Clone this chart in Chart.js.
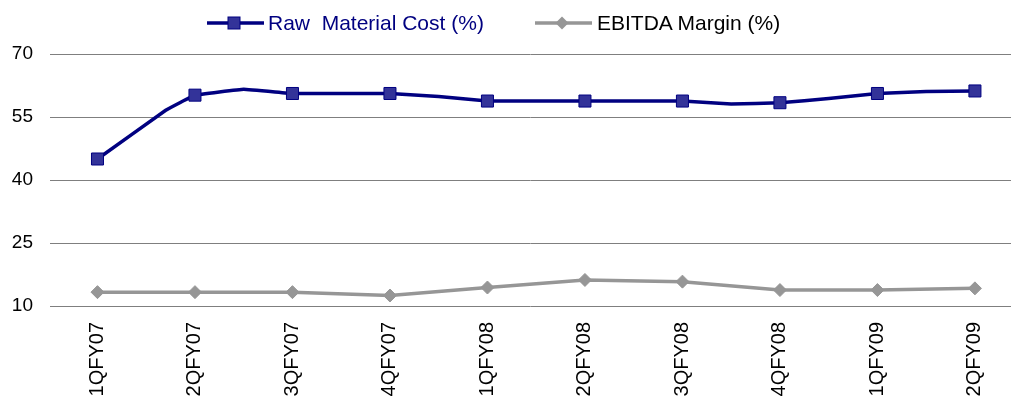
<!DOCTYPE html>
<html><head><meta charset="utf-8">
<script src="https://cdn.jsdelivr.net/npm/chart.js@4/dist/chart.umd.min.js"></script>
<style>
html,body{margin:0;padding:0;background:#fff;overflow:hidden}
#frame{position:relative;width:1011px;height:398px;overflow:hidden;background:#fff}
#wrap{position:absolute;left:0;top:0;width:1011px;height:398px}
#legend{position:absolute;top:10px;left:0;width:1011px;height:26px;font-family:"Liberation Sans",Arial,sans-serif;font-size:21px}
.item{position:absolute;top:0;display:flex;align-items:center;height:26px;white-space:pre}
.item svg{display:block}
</style></head>
<body>
<div id="frame">
  <div id="wrap"><canvas id="c"></canvas></div>
  <div id="legend"></div>
</div>
<script>
// ---- data ----
const categories = ['1QFY07','2QFY07','3QFY07','4QFY07','1QFY08','2QFY08','3QFY08','4QFY08','1QFY09','2QFY09'];
const rawMaterialCost = [45.0, 60.2, 60.6, 60.6, 58.8, 58.8, 58.8, 58.4, 60.6, 61.2];
// unmarked vertices the line passes through between quarters (position in quarters, value)
const rawMaterialHiddenAt = [0.7, 1.5, 2.5, 3.5, 4.5, 5.5, 6.5, 7.5, 8.5];
const rawMaterialHidden = [56.6, 61.6, 60.6, 59.9, 58.8, 58.8, 58.1, 59.4, 61.1];
const ebitdaMargin = [13.3, 13.3, 13.3, 12.5, 14.4, 16.2, 15.8, 13.8, 13.8, 14.2];
const yTicks = [10, 25, 40, 55, 70];
const seriesNames = ['Raw  Material Cost (%)', 'EBITDA Margin (%)'];

// ---- styles ----
const NAVY = '#000080', NAVY_FILL = '#333399', GREY = '#969696';
const FONT = '"Liberation Sans", Arial, sans-serif';

const rawPoints = rawMaterialCost.map((v, i) => ({x: i, y: v}))
  .concat(rawMaterialHidden.map((v, i) => ({x: rawMaterialHiddenAt[i], y: v})))
  .sort((a, b) => a.x - b.x);
const ebitdaPoints = ebitdaMargin.map((v, i) => ({x: i, y: v}));

new Chart(document.getElementById('c'), {
  type: 'line',
  data: {
    datasets: [
      {
        label: seriesNames[0], data: rawPoints,
        borderColor: NAVY, borderWidth: 3.5, tension: 0.05,
        pointStyle: 'rect',
        pointRadius: ctx => Number.isInteger(ctx.raw && ctx.raw.x) ? 8.5 : 0,
        pointBackgroundColor: NAVY_FILL, pointBorderColor: NAVY, pointBorderWidth: 1,
        pointHoverRadius: 0
      },
      {
        label: seriesNames[1], data: ebitdaPoints,
        borderColor: GREY, borderWidth: 3.5, tension: 0,
        pointStyle: 'rectRot', pointRadius: 6.5,
        pointBackgroundColor: GREY, pointBorderColor: GREY, pointBorderWidth: 1,
        pointHoverRadius: 0
      }
    ]
  },
  options: {
    responsive: true, maintainAspectRatio: false, animation: false,
    layout: {autoPadding: false, padding: {top: 54, left: 12, right: 0, bottom: 0}},
    plugins: {legend: {display: false}, tooltip: {enabled: false}},
    events: [],
    scales: {
      x: {
        type: 'linear', min: -0.487, max: 9.37,
        afterBuildTicks: axis => { axis.ticks = categories.map((_, i) => ({value: i})); },
        afterFit: axis => { axis.height = 92; axis.paddingLeft = 0; axis.paddingRight = 0; },
        grid: {display: false, drawTicks: false}, border: {display: false},
        ticks: {
          autoSkip: false, maxRotation: 90, minRotation: 90, padding: 16,
          color: '#000', font: {family: FONT, size: 20},
          callback: v => categories[v]
        }
      },
      y: {
        min: 10, max: 70,
        afterBuildTicks: axis => { axis.ticks = yTicks.map(v => ({value: v})); },
        afterFit: axis => { axis.width = 38; axis.paddingTop = 0; axis.paddingBottom = 0; },
        grid: {color: '#7f7f7f', lineWidth: 1, drawTicks: false},
        border: {display: false},
        ticks: {padding: 17, color: '#000', font: {family: FONT, size: 19}}
      }
    }
  }
});

// ---- legend (HTML text) ----
const legend = document.getElementById('legend');
const svgNS = 'http://www.w3.org/2000/svg';
function legendItem(left, name, color, textColor, marker, gap) {
  const item = document.createElement('div');
  item.className = 'item'; item.style.left = left + 'px';
  const svg = document.createElementNS(svgNS, 'svg');
  svg.setAttribute('width', '57'); svg.setAttribute('height', '26');
  const line = document.createElementNS(svgNS, 'line');
  line.setAttribute('x1', '0'); line.setAttribute('x2', '57');
  line.setAttribute('y1', '13'); line.setAttribute('y2', '13');
  line.setAttribute('stroke', color); line.setAttribute('stroke-width', '3.5');
  svg.appendChild(line);
  svg.appendChild(marker);
  const span = document.createElement('span');
  span.textContent = name; span.style.color = textColor; span.style.marginLeft = gap + 'px';
  item.appendChild(svg); item.appendChild(span);
  legend.appendChild(item);
}
const sq = document.createElementNS(svgNS, 'rect');
sq.setAttribute('x', '21'); sq.setAttribute('y', '7'); sq.setAttribute('width', '12'); sq.setAttribute('height', '12');
sq.setAttribute('fill', NAVY_FILL); sq.setAttribute('stroke', NAVY); sq.setAttribute('stroke-width', '1');
const dm = document.createElementNS(svgNS, 'polygon');
dm.setAttribute('points', '27,6.5 33.5,13 27,19.5 20.5,13');
dm.setAttribute('fill', GREY);
legendItem(207, seriesNames[0], NAVY, NAVY, sq, 4);
legendItem(535, seriesNames[1], GREY, '#000', dm, 5);
</script>
</body></html>
